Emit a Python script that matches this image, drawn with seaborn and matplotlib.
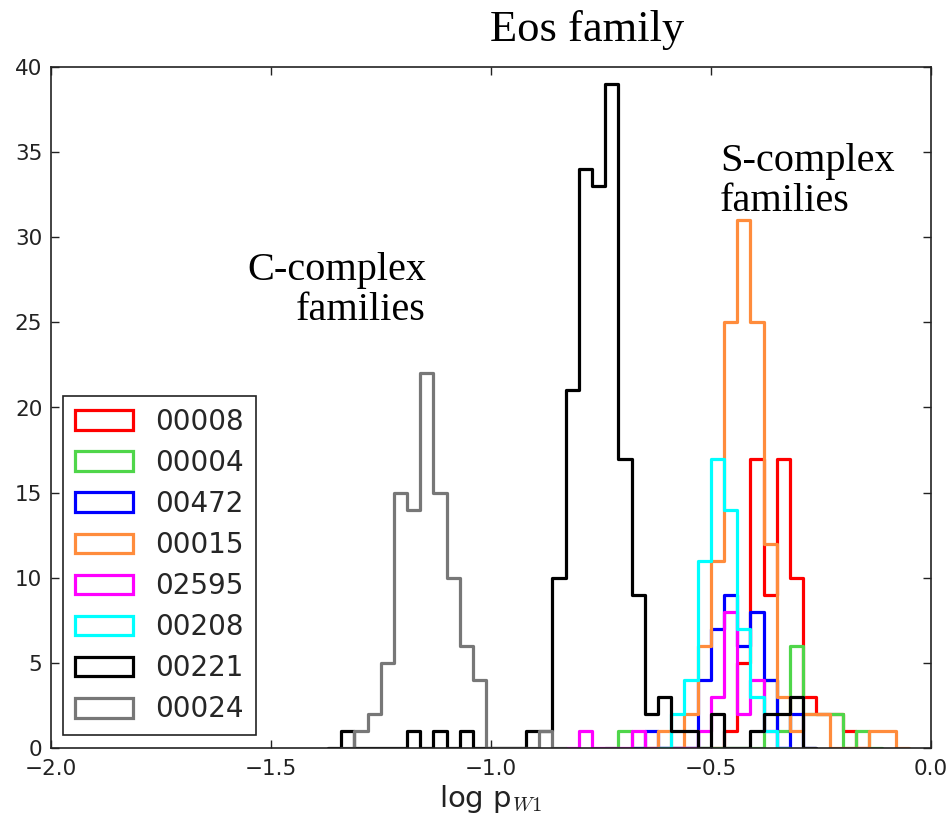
import numpy as np
import pandas as pd
import matplotlib
matplotlib.use("Agg")
import matplotlib.pyplot as plt
import seaborn as sns
from matplotlib.patches import Patch

# ---------------- data (counts per bin, bin width 0.03) ----------------
BIN_WIDTH = 0.03
families = ["00008", "00004", "00472", "00015", "02595", "00208", "00221", "00024"]
colors = ["#ff0000", "#4fd64a", "#0000ff", "#ff8c3c", "#ff00ff", "#00ffff", "#000000", "#777777"]

# first bin left edge for each family
starts = [-0.47, -0.71, -0.65, -0.62, -0.80, -0.59, -1.34, -1.31]

red_counts = [1, 5, 17, 9, 17, 10, 3, 2, 2, 1]
green_counts = [1, 0, 0, 0, 0, 0, 0, 0, 0, 0, 0, 4, 1, 6, 2, 2, 2, 0, 1]
blue_counts = [1, 0, 0, 0, 4, 7, 9, 6, 8, 4, 0, 2]
orange_counts = [1, 0, 2, 6, 11, 25, 31, 25, 12, 3, 1, 2, 2, 0, 0, 0, 1, 1]
magenta_counts = [1, 0, 0, 0, 1, 0, 0, 0, 0, 1, 3, 8, 2, 4, 1]
cyan_counts = [2, 4, 11, 17, 14, 7, 3, 1]
black_counts = [1, 0, 0, 0, 0, 1, 0, 1, 0, 1, 0, 0, 0, 0, 1, 1, 10, 21, 34, 33,
                39, 17, 9, 2, 3, 1, 1, 0, 2, 0, 0, 1, 2, 2, 3]
gray_counts = [1, 2, 5, 15, 14, 22, 15, 10, 6, 4, 0, 0, 0, 0, 1]

all_counts = [red_counts, green_counts, blue_counts, orange_counts,
              magenta_counts, cyan_counts, black_counts, gray_counts]

# ---------------- figure ----------------
sns.set_style("ticks", {"xtick.direction": "in", "ytick.direction": "in"})
plt.rcParams["font.family"] = ["DejaVu Sans"]
plt.rcParams["mathtext.fontset"] = "cm"

W, H = 947, 822
fig = plt.figure(figsize=(W / 100, H / 100), dpi=100)
ax = fig.add_axes([50.7 / W, 1 - 748 / H, 880 / W, 681 / H])

for fam, col, st, cnt in zip(families, colors, starts, all_counts):
    cnt = np.asarray(cnt, dtype=float)
    padded = np.concatenate([[0.0], cnt, [0.0]])
    n = len(padded)
    lo = st - BIN_WIDTH
    centers = lo + BIN_WIDTH * (np.arange(n) + 0.5)
    df = pd.DataFrame({"x": centers, "w": padded})
    sns.histplot(data=df, x="x", weights="w", binwidth=BIN_WIDTH,
                 binrange=(lo, lo + BIN_WIDTH * n), element="step",
                 fill=False, color=col, linewidth=2.3, ax=ax)

ax.set_xlim(-2.0, 0.0)
ax.set_ylim(0, 40)
ax.set_xticks([-2.0, -1.5, -1.0, -0.5, 0.0])
ax.set_xticklabels(["\u22122.0", "\u22121.5", "\u22121.0", "\u22120.5", "0.0"])
ax.set_yticks(range(0, 41, 5))
ax.tick_params(axis="both", which="both", direction="in", top=True, right=True,
               length=5.5, width=1.0, labelsize=15.5, colors="#222222",
               labelcolor="#222222")
ax.tick_params(axis="x", pad=8)
ax.tick_params(axis="y", pad=6)
for sp in ax.spines.values():
    sp.set_linewidth(1.2)
    sp.set_color("#222222")
ax.set_ylabel("")
ax.set_xlabel(r"log p$_{W1}$", fontsize=21, labelpad=3, color="#222222")

handles = [Patch(facecolor="white", edgecolor=c, linewidth=2.3) for c in colors]
leg = ax.legend(handles, families, loc="lower left", bbox_to_anchor=(12.5 / 880, 13 / 681),
                fontsize=20, frameon=True, fancybox=False, framealpha=1,
                edgecolor="#222222", handlelength=2.1, handleheight=0.72,
                labelspacing=0.47, borderpad=0.42, handletextpad=0.8,
                borderaxespad=0)
leg.get_frame().set_linewidth(1.2)

serif = ["Liberation Serif", "DejaVu Serif"]
fig.text(587 / W, 1 - 30 / H, "Eos family", family=serif, fontsize=32,
         ha="center", va="center", color="black")
fig.text(426 / W, 1 - 252 / H, "C-complex\nfamilies", family=serif, fontsize=29,
         ha="right", va="top", multialignment="right", linespacing=1.12, color="black")
fig.text(720 / W, 1 - 143 / H, "S-complex\nfamilies", family=serif, fontsize=29,
         ha="left", va="top", multialignment="left", linespacing=1.12, color="black")

fig.savefig("out.png", dpi=100, facecolor="white")
